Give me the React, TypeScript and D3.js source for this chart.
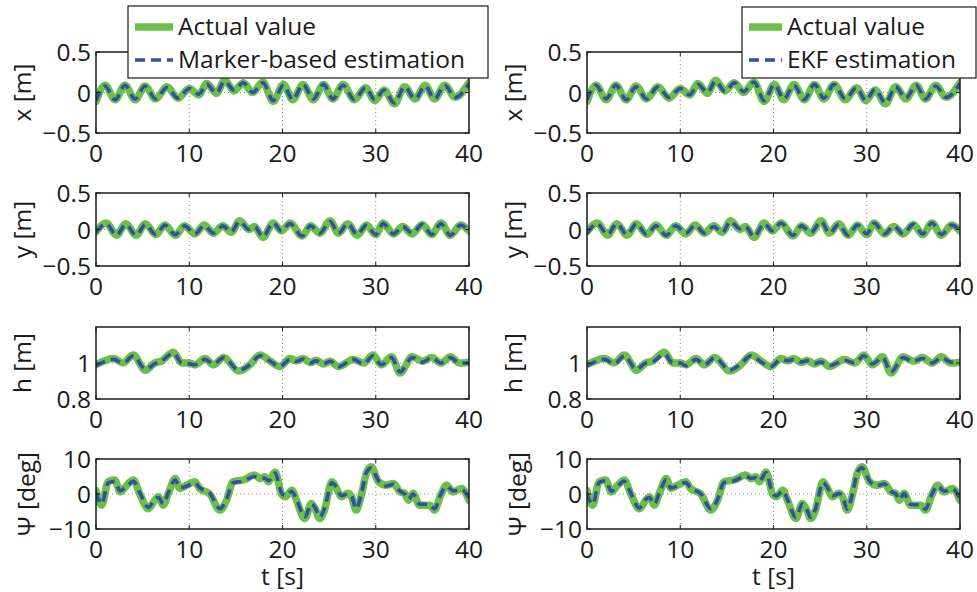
import * as d3 from "d3";
import React from "react";

// x [m]
const T_X = [0, 0.97, 2.05, 3.1, 4.2, 5.25, 6.4, 7.6, 8.8, 10.0, 11.0, 11.9, 12.9, 13.8, 14.8, 15.8, 16.8, 17.9, 19.0, 20.1, 21.1, 22.2, 23.3, 24.4, 25.4, 26.5, 27.7, 28.9, 29.9, 30.9, 32.0, 33.1, 34.2, 35.3, 36.3, 37.4, 38.5, 40];
const X_ACT = [-0.11, 0.09, -0.09, 0.09, -0.09, 0.08, -0.08, 0.07, -0.07, 0.05, -0.03, 0.11, -0.01, 0.15, 0.02, 0.12, 0.0, 0.13, -0.11, 0.1, -0.09, 0.1, -0.09, 0.1, -0.08, 0.1, -0.09, 0.06, -0.1, 0.03, -0.14, 0.07, -0.08, 0.09, -0.08, 0.09, -0.06, 0.12];
const X_MARKER = [-0.1, 0.08, -0.09, 0.09, -0.08, 0.08, -0.08, 0.06, -0.07, 0.05, -0.02, 0.1, -0.01, 0.14, 0.03, 0.12, 0.0, 0.12, -0.1, 0.09, -0.09, 0.1, -0.08, 0.1, -0.08, 0.09, -0.09, 0.06, -0.09, 0.03, -0.13, 0.07, -0.08, 0.08, -0.08, 0.09, -0.06, 0.11];
const X_EKF = [-0.09, 0.09, -0.08, 0.09, -0.09, 0.07, -0.08, 0.07, -0.06, 0.05, -0.03, 0.1, 0.0, 0.14, 0.01, 0.12, 0.01, 0.13, -0.1, 0.1, -0.08, 0.09, -0.09, 0.1, -0.07, 0.1, -0.08, 0.06, -0.1, 0.04, -0.13, 0.07, -0.07, 0.09, -0.08, 0.08, -0.06, 0.11];

// y [m]
const T_Y = [0, 1.1, 2.2, 3.2, 4.3, 5.3, 6.4, 7.4, 8.5, 9.5, 10.6, 11.6, 12.6, 13.6, 14.5, 15.4, 16.4, 17.0, 17.9, 19.0, 19.9, 20.8, 22.1, 23.0, 24.0, 25.1, 26.0, 27.0, 28.0, 29.0, 30.0, 30.8, 31.9, 32.9, 33.9, 35.0, 36.0, 37.0, 38.0, 39.1, 40];
const Y_ACT = [-0.03, 0.09, -0.08, 0.08, -0.08, 0.08, -0.07, 0.06, -0.08, 0.05, -0.06, 0.06, -0.05, 0.05, -0.04, 0.12, 0.0, 0.04, -0.11, 0.09, -0.02, 0.09, -0.09, 0.05, -0.05, 0.12, -0.05, 0.08, -0.08, 0.06, -0.07, 0.09, -0.06, 0.04, -0.06, 0.07, -0.07, 0.09, -0.08, 0.06, -0.02];
const Y_MARKER = [-0.04, 0.08, -0.08, 0.07, -0.08, 0.07, -0.07, 0.06, -0.07, 0.05, -0.06, 0.05, -0.05, 0.05, -0.03, 0.11, 0.0, 0.04, -0.1, 0.09, -0.02, 0.08, -0.09, 0.05, -0.05, 0.11, -0.05, 0.08, -0.07, 0.06, -0.07, 0.08, -0.06, 0.04, -0.05, 0.07, -0.07, 0.08, -0.08, 0.06, -0.02];
const Y_EKF = [-0.05, 0.08, -0.07, 0.08, -0.07, 0.08, -0.07, 0.05, -0.08, 0.05, -0.05, 0.06, -0.05, 0.04, -0.04, 0.11, 0.01, 0.04, -0.1, 0.08, -0.02, 0.09, -0.08, 0.05, -0.04, 0.11, -0.05, 0.07, -0.08, 0.06, -0.06, 0.09, -0.06, 0.05, -0.06, 0.07, -0.06, 0.09, -0.07, 0.06, -0.02];

// h [m]
const T_H = [0, 1.9, 2.9, 4.0, 5.3, 6.3, 7.0, 8.3, 9.2, 10.0, 10.6, 11.7, 12.6, 13.7, 15.3, 16.5, 17.6, 18.7, 19.7, 20.8, 21.5, 22.2, 23.0, 23.6, 24.4, 25.1, 26.0, 27.6, 28.7, 29.7, 30.6, 31.7, 32.6, 33.9, 35.0, 36.0, 37.0, 38.0, 39.0, 40];
const H_ACT = [0.99, 1.025, 1.0, 1.045, 0.96, 1.0, 1.01, 1.06, 1.0, 1.0, 0.99, 1.025, 0.99, 1.03, 0.955, 0.99, 1.045, 1.01, 0.98, 1.025, 1.012, 1.025, 1.003, 1.015, 0.995, 1.01, 0.98, 1.02, 1.0, 1.045, 0.99, 1.035, 0.945, 1.035, 1.01, 1.03, 1.0, 1.035, 1.0, 1.005];
const H_MARKER = [0.985, 1.02, 1.0, 1.04, 0.965, 0.995, 1.01, 1.055, 1.0, 0.995, 0.99, 1.02, 0.995, 1.03, 0.96, 0.99, 1.04, 1.01, 0.98, 1.02, 1.01, 1.022, 1.0, 1.012, 0.995, 1.01, 0.98, 1.02, 0.995, 1.04, 0.99, 1.03, 0.95, 1.03, 1.005, 1.03, 1.0, 1.03, 1.0, 1.0];
const H_EKF = [0.985, 1.02, 0.995, 1.04, 0.965, 1.0, 1.005, 1.05, 1.0, 1.0, 0.985, 1.02, 0.99, 1.03, 0.96, 0.995, 1.04, 1.005, 0.98, 1.02, 1.013, 1.02, 1.005, 1.013, 0.997, 1.005, 0.985, 1.015, 1.0, 1.04, 0.995, 1.03, 0.95, 1.03, 1.01, 1.025, 1.0, 1.03, 1.005, 1.0];

// Psi [deg]
const T_PSI = [0, 0.6, 1.3, 2.0, 2.6, 3.3, 4.0, 4.7, 5.6, 6.3, 6.7, 7.2, 7.8, 8.5, 9.0, 9.7, 10.6, 11.1, 12.2, 13.3, 14.0, 14.7, 15.8, 17.0, 17.6, 18.1, 18.5, 19.2, 19.9, 20.3, 21.0, 21.5, 22.4, 23.1, 23.5, 24.0, 24.5, 25.3, 25.8, 26.3, 27.0, 27.4, 27.9, 28.5, 29.0, 29.5, 30.3, 31.1, 31.9, 32.6, 33.1, 33.5, 34.0, 34.7, 35.8, 36.3, 36.9, 37.6, 38.3, 39.2, 40];
const PSI_ACT = [1, -3.2, 3.5, 4, 0.6, 2.5, 4, 0, -4.2, -1.8, -0.8, -3.2, 0.5, 4.4, 1.6, 2.5, 3.5, 1.6, 0, -4.6, -1.8, 3.5, 4, 5.4, 4.4, 4.9, 3.5, 6.3, 0, -0.8, 1.1, -1.8, -7, -2.7, -4.2, -7, -4.6, 3.5, 1.6, -0.8, 0.2, -0.8, -4.6, 0.2, 6.0, 7.8, 3.5, 2.5, 3, 0.6, 0.2, -1.8, 0.2, -3.2, -3.2, -4.6, -0.8, 2.5, 0.6, 1.6, -1.8];
const PSI_MARKER = [0.5, -2.8, 3.2, 3.6, 0.9, 2.2, 3.6, 0.3, -3.8, -1.6, -1.0, -2.8, 0.7, 4.0, 1.8, 2.2, 3.2, 1.8, 0.2, -4.2, -1.5, 3.2, 3.7, 5.0, 4.6, 4.5, 3.8, 6.0, 0.3, -0.5, 0.8, -1.5, -6.5, -2.9, -3.9, -6.6, -4.2, 3.2, 1.9, -0.5, 0.0, -0.6, -4.2, 0.5, 6.2, 7.4, 3.8, 2.3, 2.8, 0.8, 0.0, -1.5, 0.0, -2.9, -3.0, -4.3, -0.5, 2.2, 0.9, 1.3, -1.2];
const PSI_EKF = [0.3, -2.9, 3.3, 3.8, 0.8, 2.3, 3.7, 0.2, -4.0, -1.5, -1.0, -2.9, 0.6, 4.1, 1.7, 2.3, 3.3, 1.7, 0.1, -4.3, -1.6, 3.3, 3.8, 5.1, 4.5, 4.6, 3.7, 6.1, 0.2, -0.6, 0.9, -1.6, -6.6, -2.8, -4.0, -6.7, -4.3, 3.3, 1.8, -0.6, 0.1, -0.7, -4.3, 0.4, 6.3, 7.5, 3.7, 2.4, 2.9, 0.7, 0.1, -1.6, 0.1, -3.0, -3.1, -4.4, -0.6, 2.3, 0.8, 1.4, -1.3];

const T_TICKS = [0, 10, 20, 30, 40];
const X_TICKS = [-0.5, 0, 0.5];
const H_TICKS = [0.8, 1];
const PSI_TICKS = [-10, 0, 10];
const EST_LABELS = ["Marker-based estimation", "EKF estimation"];
const ACTUAL_LABEL = "Actual value";

const GREEN = "#6cbf47";
const BLUE = "#2f4fa8";
const INK = "#1a1a1a";
const FONT = "'Open Sans', sans-serif";
const FS = 24.5;
const GREEN_W = 7.5;
const BLUE_W = 3.6;
const DASH = "10,6";

const fmt = (v: number) => (v < 0 ? "\u2212" + String(-v) : String(v));

const ROWS = [
  { top: 52, bottom: 133, domain: [-0.5, 0.5], ticks: X_TICKS, grid: [0], label: "x [m]", t: T_X, act: X_ACT, est: [X_MARKER, X_EKF], lx: 21 },
  { top: 193, bottom: 266, domain: [-0.5, 0.5], ticks: X_TICKS, grid: [0], label: "y [m]", t: T_Y, act: Y_ACT, est: [Y_MARKER, Y_EKF], lx: 21 },
  { top: 327, bottom: 399, domain: [0.8, 1.2], ticks: H_TICKS, grid: [1], label: "h [m]", t: T_H, act: H_ACT, est: [H_MARKER, H_EKF], lx: 21 },
  { top: 459, bottom: 529, domain: [-10, 10], ticks: PSI_TICKS, grid: [0], label: "\u03a8 [deg]", t: T_PSI, act: PSI_ACT, est: [PSI_MARKER, PSI_EKF], lx: 25 },
];

const COLS = [
  { left: 96, right: 469 },
  { left: 587, right: 960 },
];

const LEGENDS = [
  { x0: 128, x1: 488, y0: 6, y1: 78, lineX: 135, lineW: 38 },
  { x0: 742, x1: 976, y0: 7, y1: 78, lineX: 749, lineW: 33 },
];

function Panel({ ci, ri }: { ci: number; ri: number }) {
  const col = COLS[ci];
  const row = ROWS[ri];
  const xs = d3.scaleLinear().domain([0, 40]).range([col.left, col.right]);
  const ys = d3.scaleLinear().domain(row.domain).range([row.bottom, row.top]);
  const line = d3
    .line<[number, number]>()
    .x((d) => xs(d[0]))
    .y((d) => ys(d[1]))
    .curve(d3.curveMonotoneX);
  const act = line(d3.zip(row.t, row.act) as [number, number][]) || "";
  const est = line(d3.zip(row.t, row.est[ci]) as [number, number][]) || "";
  const clipId = `clip-${ci}-${ri}`;
  const tl = 4;
  const offX = col.left - COLS[0].left;
  return (
    <g>
      <defs>
        <clipPath id={clipId}>
          <rect x={col.left} y={row.top} width={col.right - col.left} height={row.bottom - row.top} />
        </clipPath>
      </defs>
      <rect x={col.left} y={row.top} width={col.right - col.left} height={row.bottom - row.top} fill="#fff" />
      {/* grid */}
      {T_TICKS.filter((v) => v > 0 && v < 40).map((v) => (
        <line key={"gx" + v} x1={xs(v)} x2={xs(v)} y1={row.top} y2={row.bottom} stroke="#8a8a8a" strokeWidth={1} strokeDasharray="1,3" />
      ))}
      {row.grid.map((v) => (
        <line key={"gy" + v} x1={col.left} x2={col.right} y1={ys(v)} y2={ys(v)} stroke="#8a8a8a" strokeWidth={1} strokeDasharray="1,3" />
      ))}
      <g clipPath={`url(#${clipId})`}>
        <path d={act} fill="none" stroke={GREEN} strokeWidth={GREEN_W} strokeLinejoin="round" strokeLinecap="round" />
        <path d={est} fill="none" stroke={BLUE} strokeWidth={BLUE_W} strokeDasharray={DASH} />
      </g>
      {/* ticks */}
      {T_TICKS.map((v) => (
        <g key={"tx" + v}>
          <line x1={xs(v)} x2={xs(v)} y1={row.bottom} y2={row.bottom - tl} stroke={INK} strokeWidth={1} />
          <line x1={xs(v)} x2={xs(v)} y1={row.top} y2={row.top + tl} stroke={INK} strokeWidth={1} />
          <text x={xs(v)} y={row.bottom + 29} textAnchor="middle" fontSize={FS} fontFamily={FONT} fill={INK}>
            {fmt(v)}
          </text>
        </g>
      ))}
      {row.ticks.map((v) => (
        <g key={"ty" + v}>
          <line x1={col.left} x2={col.left + tl} y1={ys(v)} y2={ys(v)} stroke={INK} strokeWidth={1} />
          <line x1={col.right} x2={col.right - tl} y1={ys(v)} y2={ys(v)} stroke={INK} strokeWidth={1} />
          <text x={col.left - 5} y={ys(v)} dy="0.38em" textAnchor="end" fontSize={FS} fontFamily={FONT} fill={INK}>
            {fmt(v)}
          </text>
        </g>
      ))}
      <rect x={col.left} y={row.top} width={col.right - col.left} height={row.bottom - row.top} fill="none" stroke={INK} strokeWidth={1.5} />
      <text
        transform={`translate(${row.lx + offX},${(row.top + row.bottom) / 2}) rotate(-90)`}
        textAnchor="middle"
        dominantBaseline="central"
        fontSize={FS}
        fontFamily={FONT}
        fill={INK}
      >
        {row.label}
      </text>
    </g>
  );
}

export default function App() {
  return (
    <svg width={977} height={592} style={{ position: "absolute", left: 0, top: 0, background: "#fff" }}>
      <rect width={977} height={592} fill="#fff" />
      {COLS.map((_, ci) => ROWS.map((__, ri) => <Panel key={`${ci}-${ri}`} ci={ci} ri={ri} />))}
      {COLS.map((col, ci) => (
        <text key={"tl" + ci} x={(col.left + col.right) / 2} y={585} textAnchor="middle" fontSize={FS} fontFamily={FONT} fill={INK}>
          t [s]
        </text>
      ))}
      {LEGENDS.map((lg, ci) => (
        <g key={"lg" + ci}>
          <rect x={lg.x0} y={lg.y0} width={lg.x1 - lg.x0} height={lg.y1 - lg.y0} fill="#fff" stroke={INK} strokeWidth={1.2} />
          <line x1={lg.lineX} x2={lg.lineX + lg.lineW} y1={27} y2={27} stroke={GREEN} strokeWidth={GREEN_W} />
          <line x1={lg.lineX} x2={lg.lineX + lg.lineW} y1={60} y2={60} stroke={BLUE} strokeWidth={BLUE_W} strokeDasharray={DASH} />
          <text x={lg.lineX + lg.lineW + 5} y={35} fontSize={FS} fontFamily={FONT} fill={INK}>
            {ACTUAL_LABEL}
          </text>
          <text x={lg.lineX + lg.lineW + 5} y={68} fontSize={FS} fontFamily={FONT} fill={INK}>
            {EST_LABELS[ci]}
          </text>
        </g>
      ))}
    </svg>
  );
}
